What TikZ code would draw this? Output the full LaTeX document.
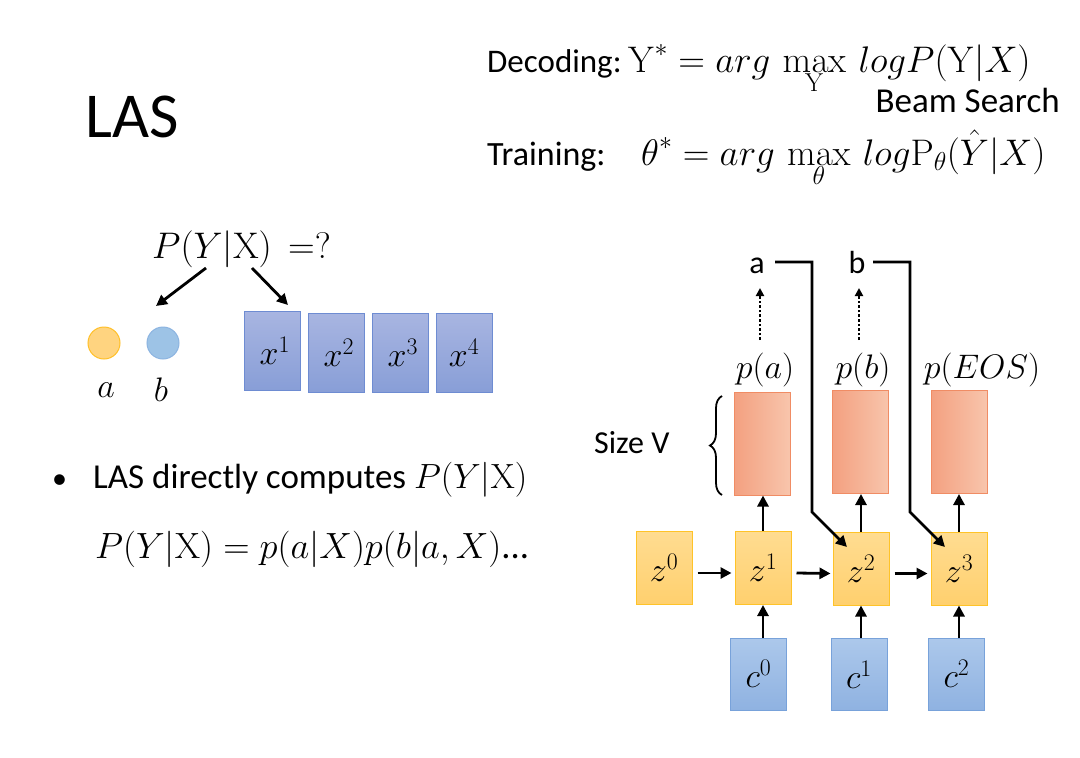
\RequirePackage{fix-cm}
\documentclass[tikz,border=0pt]{standalone}
\usepackage[no-math]{fontspec}
\setmainfont{Carlito}
\usetikzlibrary{arrows.meta,decorations.pathreplacing,calc}
\definecolor{xtop}{RGB}{168,181,225}
\definecolor{xbot}{RGB}{136,158,215}
\definecolor{xbord}{RGB}{110,140,210}
\definecolor{ztop}{RGB}{255,220,145}
\definecolor{zbot}{RGB}{255,208,110}
\definecolor{zbord}{RGB}{255,195,40}
\definecolor{ctop}{RGB}{172,200,235}
\definecolor{cbot}{RGB}{143,178,225}
\definecolor{cbord}{RGB}{120,162,218}
\definecolor{oleft}{RGB}{243,160,128}
\definecolor{oright}{RGB}{248,197,172}
\definecolor{obord}{RGB}{240,140,100}
\definecolor{cira}{RGB}{255,212,128}
\definecolor{cirab}{RGB}{255,192,40}
\definecolor{cirb}{RGB}{157,195,230}
\definecolor{cirbb}{RGB}{140,180,225}
\begin{document}
\begin{tikzpicture}[x=1pt,y=-1pt,
  txt/.style={inner sep=0pt,anchor=base west},
  xbox/.style={draw=xbord,line width=1pt,top color=xtop,bottom color=xbot,minimum width=56pt,minimum height=79pt,inner sep=0pt,font=\fontsize{34}{38}\selectfont},
  zbox/.style={draw=zbord,line width=1pt,top color=ztop,bottom color=zbot,minimum width=56pt,minimum height=73pt,inner sep=0pt,font=\fontsize{34}{38}\selectfont},
  cbox/.style={draw=cbord,line width=1pt,top color=ctop,bottom color=cbot,minimum width=56pt,minimum height=72pt,inner sep=0pt,font=\fontsize{34}{38}\selectfont},
  obox/.style={draw=obord,line width=1pt,left color=oleft,right color=oright,minimum width=56pt,minimum height=103pt,inner sep=0pt},
  arr/.style={line width=2.8pt,-{Triangle[length=11pt,width=11pt]}},
  darr/.style={line width=2.6pt,dotted,-{Triangle[length=8pt,width=8pt]}},
  lbl/.style={inner sep=0pt,font=\fontsize{34}{38}\selectfont}
]
\useasboundingbox (0,0) rectangle (1080,758);
\fill[white] (0,0) rectangle (1080,758);

% title
\node[txt] (title) at (85,137) {\fontsize{64}{72}\selectfont LAS};

% decoding / training
\node[txt] (dec) at (487,72) {\fontsize{33}{38}\selectfont Decoding:};
\node[txt] (decm) at (628,72) {\fontsize{37}{42}\selectfont $\displaystyle \mathrm{Y}^* = arg\,\max_{\mathrm{Y}}\, logP(\mathrm{Y}|X)$};
\node[inner sep=0pt,anchor=base east] (beam) at (1060,112) {\fontsize{35}{38}\selectfont Beam Search};
\node[txt] (tr) at (487,165) {\fontsize{34}{38}\selectfont Training:};
\node[txt] (trm) at (641,165) {\fontsize{37}{42}\selectfont $\displaystyle \theta^* = arg\,\max_{\theta}\, log\mathrm{P}_{\theta}\bigl(\hat{Y}|X\bigr)$};

% left part
\node[txt] (pyx) at (152,258) {\fontsize{37}{42}\selectfont $P(Y|\mathrm{X})\,=?$};
\coordinate (s1) at (206,268);
\coordinate (t1) at (156,306);
\coordinate (s2) at (252,268);
\coordinate (t2) at (288,305);
\draw[arr] (s1) -- (t1);
\draw[arr] (s2) -- (t2);

\node[circle,draw=cirab,fill=cira,line width=1pt,minimum size=32pt,inner sep=0pt] (ca) at (104,343) {};
\node[circle,draw=cirbb,fill=cirb,line width=1pt,minimum size=32pt,inner sep=0pt] (cb) at (163,343) {};
\node[lbl] (la) at (106,390) {$a$};
\node[lbl] (lb) at (161,390) {$b$};

\node[xbox] (x1) at (272,350.5) {$\,x^1$};
\node[xbox] (x2) at (336,353) {$\,x^2$};
\node[xbox] (x3) at (400,353) {$\,x^3$};
\node[xbox] (x4) at (464,353) {$x^4$};

% bullet text
\node[txt] (bul) at (52,488) {\fontsize{30}{36}\selectfont\textbullet};
\node[txt] (b1) at (93,488) {\fontsize{35}{40}\selectfont LAS directly computes $P(Y|\mathrm{X})$};
\node[txt] (b2) at (95,558) {\fontsize{36.5}{40}\selectfont $P(Y|\mathrm{X}) = p(a|X)p(b|a,X)$...};

% right diagram
\node[obox] (o1) at (762,443.5) {};
\node[obox] (o2) at (860.5,442) {};
\node[obox] (o3) at (959,442) {};
\node[lbl,anchor=base] (pa) at (765,378) {$p(a)$};
\node[lbl,anchor=base] (pb) at (863,378) {$p(b)$};
\node[lbl,anchor=base] (pe) at (982,378) {$p(EOS)$};

\node[zbox] (z0) at (664,568) {$z^0$};
\node[zbox] (z1) at (763,568) {$z^1$};
\node[zbox] (z2) at (861,568.5) {$z^2$};
\node[zbox] (z3) at (959,568.5) {$z^3$};

\node[cbox] (c0) at (758.5,674) {$c^0$};
\node[cbox] (c1) at (859,674.5) {$c^1$};
\node[cbox] (c2) at (956.5,674) {$c^2$};

\node[inner sep=0pt,anchor=base] (ya) at (757,273) {\fontsize{32}{36}\selectfont a};
\node[inner sep=0pt,anchor=base] (yb) at (857,273) {\fontsize{32}{36}\selectfont b};

\node[inner sep=0pt,anchor=base west] (sv) at (594,453) {\fontsize{32}{36}\selectfont Size V};
\draw[line width=1.8pt,decorate,decoration={brace,amplitude=12pt}] (722,495) -- (722,396);

% horizontal arrows
\draw[arr] ([xshift=5pt,yshift=-5pt]z0.east) -- ([xshift=-3pt,yshift=-5pt]z1.west);
\draw[arr] ([xshift=5pt,yshift=-5pt]z1.east) -- ([xshift=-2pt,yshift=-5pt]z2.west);
\draw[arr] ([xshift=5pt,yshift=-5pt]z2.east) -- ([xshift=-3pt,yshift=-5pt]z3.west);

% vertical arrows
\draw[arr] (z1.north) -- (z1.north |- o1.south);
\draw[arr] (z2.north) -- (z2.north |- o2.south);
\draw[arr] (z3.north) -- (z3.north |- o3.south);
\draw[arr] (z1.south |- c0.north) -- (z1.south);
\draw[arr] (z2.south |- c1.north) -- (z2.south);
\draw[arr] (z3.south |- c2.north) -- (z3.south);

% dotted arrows
\coordinate (da0) at (760,340);
\coordinate (da1) at (760,288);
\coordinate (db0) at (859,340);
\coordinate (db1) at (859,288);
\draw[darr] (da0) -- (da1);
\draw[darr] (db0) -- (db1);

% feedback lines
\coordinate (fa0) at (775,262);
\coordinate (fa1) at (812,262);
\coordinate (fa2) at (812,512);
\coordinate (fa3) at (847,547);
\coordinate (fb0) at (873,262);
\coordinate (fb1) at (910,262);
\coordinate (fb2) at (910,512);
\coordinate (fb3) at (945,547);
\draw[arr,line join=miter] (fa0) -- (fa1) -- (fa2) -- (fa3);
\draw[arr,line join=miter] (fb0) -- (fb1) -- (fb2) -- (fb3);
\end{tikzpicture}
\end{document}
